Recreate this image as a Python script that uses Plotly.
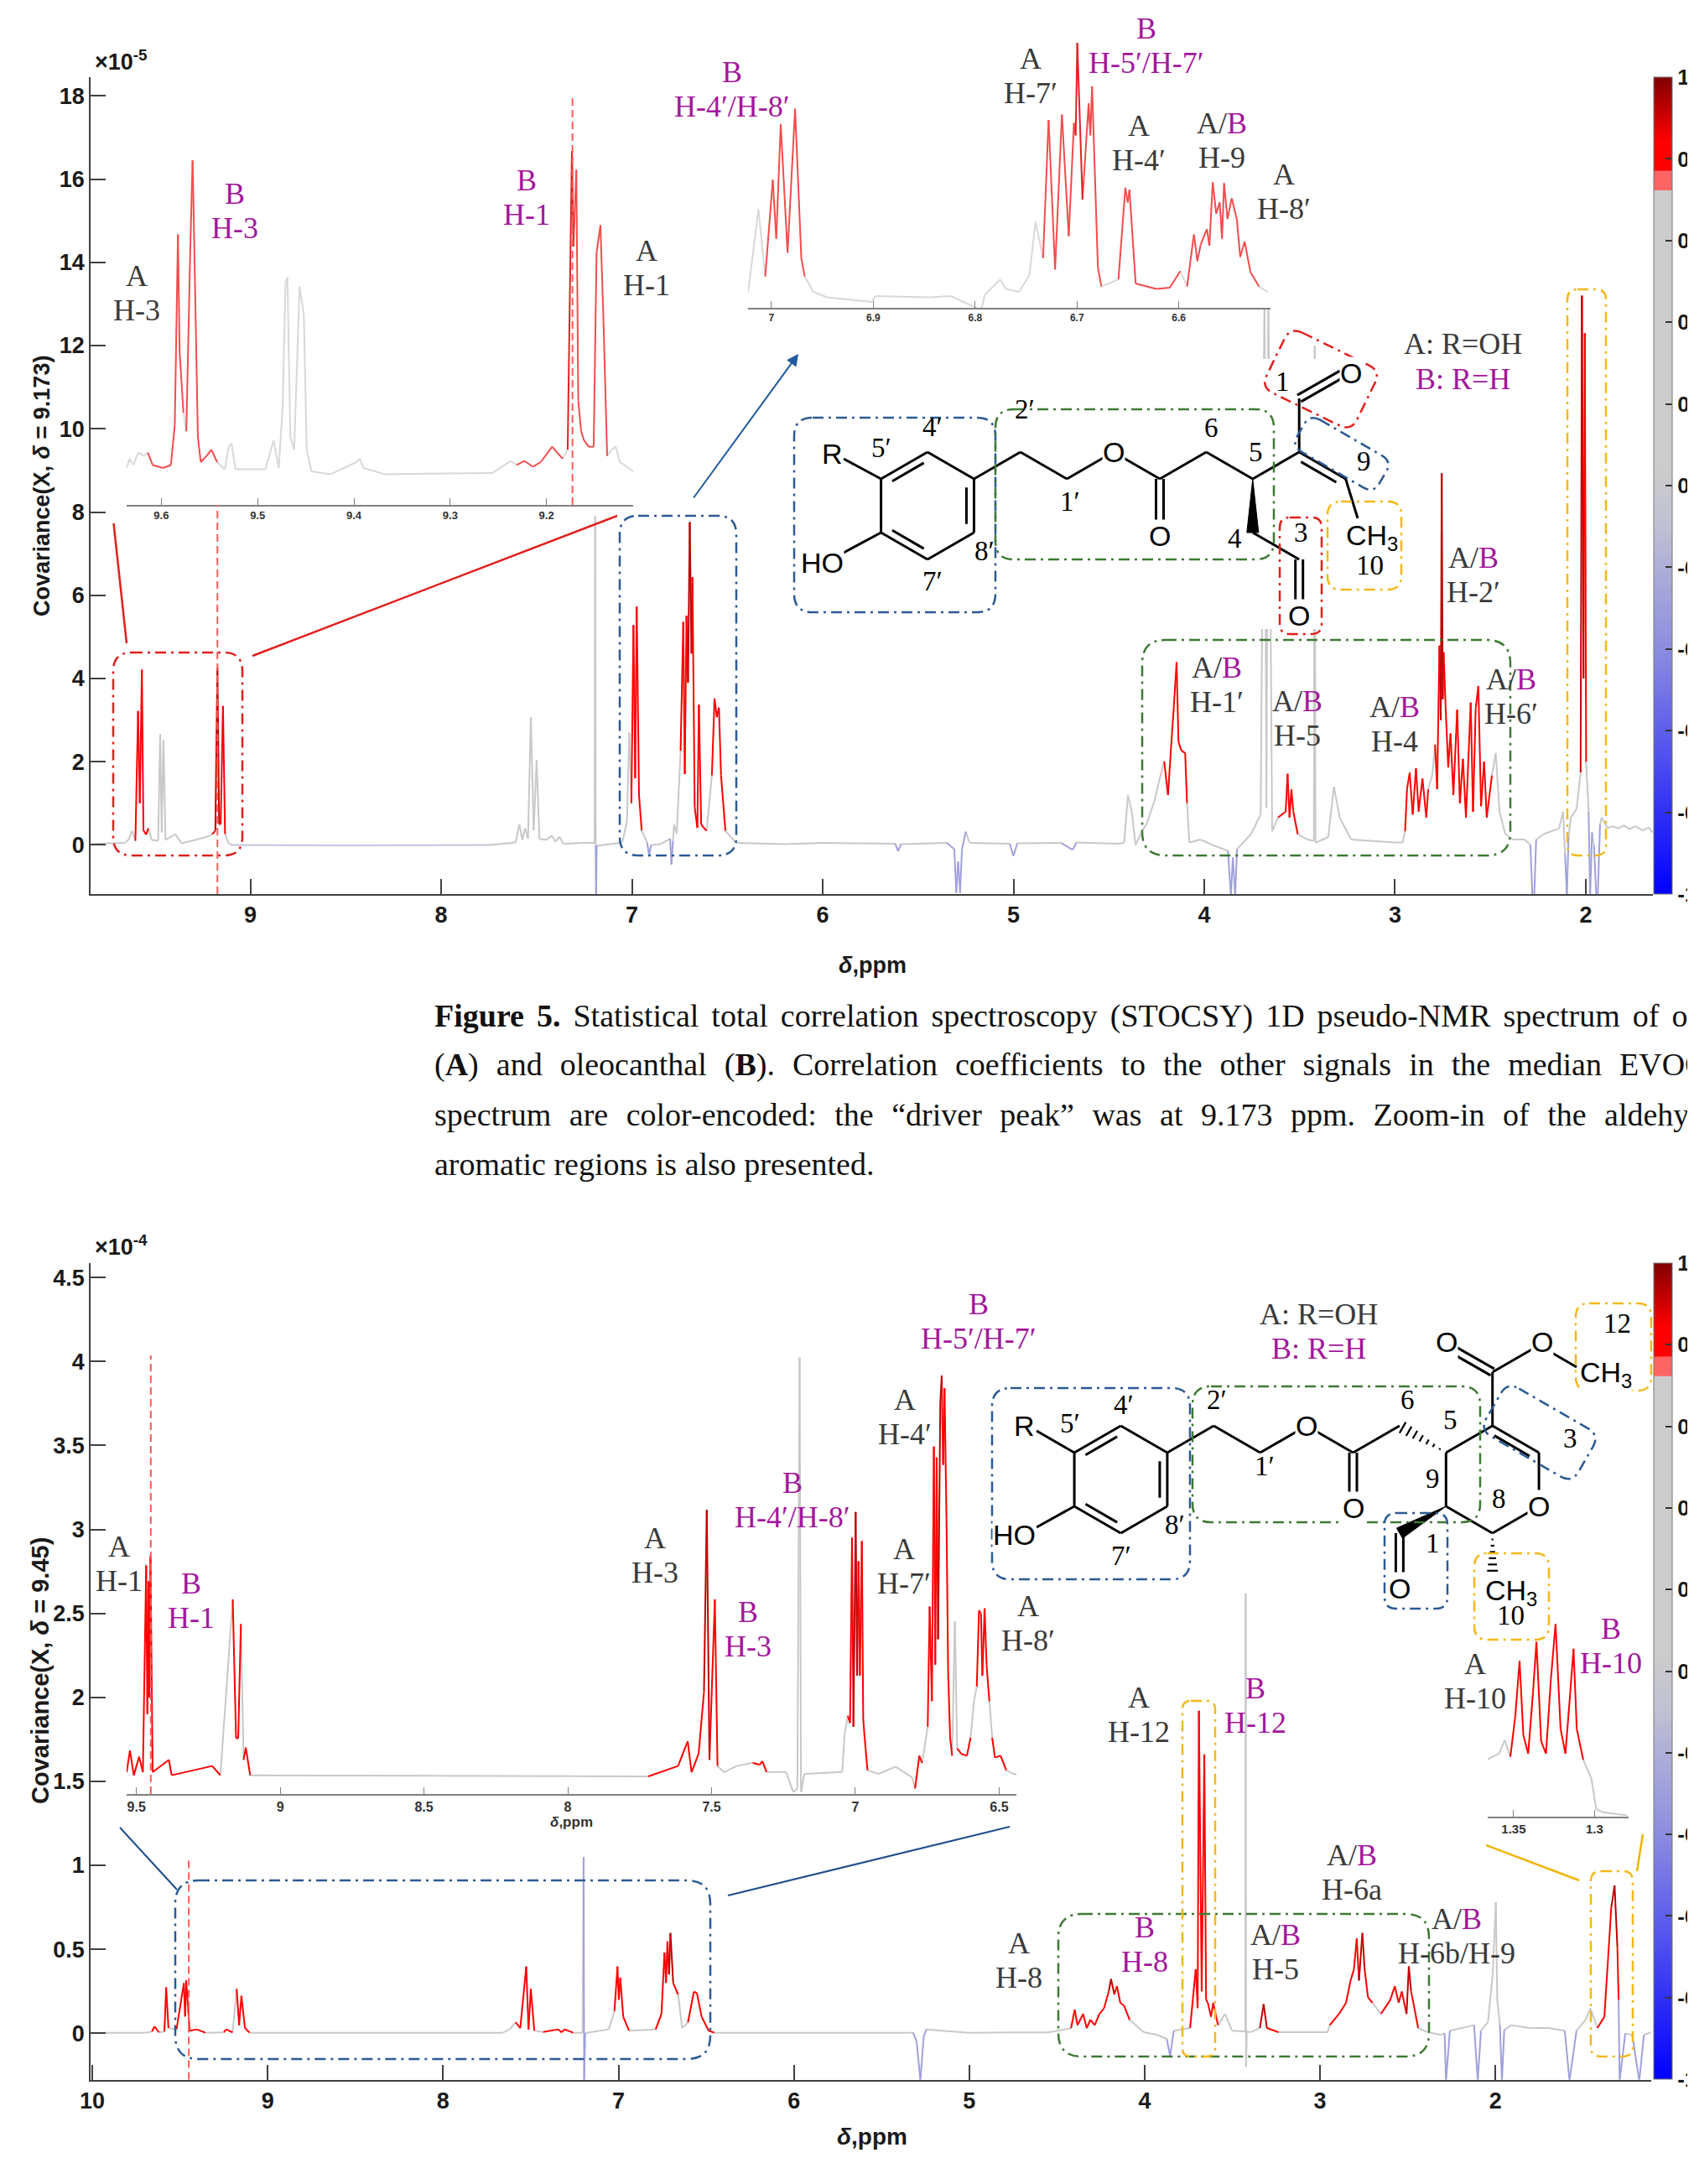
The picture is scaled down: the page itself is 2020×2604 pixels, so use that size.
import math
import plotly.graph_objects as go

W, H = 2020, 2604

# Spectra: (ppm, covariance, correlation with the driver peak)
# upper panel covariance in 1e-5, lower panel in 1e-4
top_aldehyde = [(9.835, 0.02, .3), (9.75, 0.04, .3), (9.66, 0.05, .3), (9.64, 0.12, .3), (9.62, 0.34, .3),
                (9.603, 0.10, .3), (9.589, 3.22, .8), (9.58, 1.0, .8), (9.569, 4.21, .8), (9.561, 0.35, .8),
                (9.547, 0.25, .8), (9.535, 0.40, .3), (9.518, 0.12, .3), (9.484, 0.10, .3), (9.473, 2.66, .3),
                (9.465, 0.30, .3), (9.456, 2.53, .3), (9.445, 0.12, .3), (9.394, 0.26, .3), (9.36, 0.04, .3),
                (9.23, 0.19, .3), (9.20, 0.26, .3), (9.184, 0.34, .8), (9.173, 4.26, .95), (9.164, 0.50, .8),
                (9.156, 0.50, .8), (9.144, 3.34, .8), (9.133, 0.26, .3), (9.116, 0.05, .3), (9.10, 0.0, -.2),
                (8.50, -0.01, -.2), (7.75, 0.0, -.2)]
top_aromatic = [(7.70, 0.02, .3), (7.61, 0.06, .3), (7.59, 0.50, .3), (7.575, 0.12, .3), (7.56, 0.40, .3),
                (7.545, 0.15, .3), (7.53, 3.07, .3), (7.515, 0.35, .3), (7.50, 2.04, .3), (7.485, 0.15, .3),
                (7.45, 0.12, .3), (7.42, 0.22, .3), (7.40, 0.08, .3), (7.38, 0.20, .3), (7.36, 0.03, .3),
                (7.25, 0.05, .3), (7.196, 0.05, .3), (7.193, 7.9, .3), (7.190, 0.0, .3), (7.188, -1.3, -.5),
                (7.185, -0.02, .3), (7.10, 0.03, .3), (7.06, 0.05, .3), (7.048, 0.10, .3), (7.026, 0.60, .3),
                (7.014, 2.70, .3), (7.003, 1.00, .3), (6.992, 5.29, .8), (6.983, 1.60, .8), (6.975, 5.73, .8),
                (6.963, 1.20, .8), (6.949, 0.35, .3), (6.92, 0.05, .3), (6.91, -0.25, -.5), (6.90, 0.0, .3),
                (6.85, 0.02, .3), (6.80, 0.15, .3), (6.793, -0.47, -.5), (6.785, 0.10, .3), (6.779, 0.49, .3),
                (6.765, 0.27, .3), (6.745, 2.26, .3), (6.731, 5.36, .8), (6.723, 1.70, .8), (6.714, 5.51, .8),
                (6.706, 3.90, .8), (6.697, 7.76, .95), (6.688, 4.60, .8), (6.683, 6.44, .8), (6.671, 0.90, .8),
                (6.657, 0.41, .3), (6.649, 3.37, .8), (6.637, 0.49, .8), (6.609, 0.34, .3), (6.581, 1.67, .3),
                (6.567, 3.52, .8), (6.555, 3.07, .8), (6.544, 3.30, .8), (6.533, 1.67, .8), (6.51, 0.34, .3),
                (6.482, 0.19, .3), (6.453, 0.05, .3)]
top_olefinic = [(6.2, 0.02, .3), (6.0, 0.05, .3), (5.8, 0.04, .3), (5.62, 0.03, .3), (5.605, -0.15, -.5),
                (5.59, 0.02, .3), (5.35, 0.05, .3), (5.31, -0.10, -.5), (5.30, -1.15, -.5), (5.29, -0.40, -.5),
                (5.28, -1.15, -.5), (5.27, -0.10, -.5), (5.25, 0.32, .3), (5.23, 0.05, .3), (5.02, 0.03, .3),
                (5.00, -0.26, -.5), (4.98, 0.04, .3), (4.75, 0.05, .3), (4.69, -0.12, -.5), (4.67, 0.06, .3),
                (4.45, 0.03, .3)]
top_aliphatic = [(4.42, 0.05, .3), (4.40, 1.20, .3), (4.38, 0.80, .3), (4.36, 0.0, .3), (4.33, 0.30, .3),
                 (4.30, 0.53, .3), (4.26, 1.07, .3), (4.24, 1.47, .3), (4.21, 2.01, .3), (4.19, 1.20, .8),
                 (4.17, 2.61, .8), (4.159, 3.35, .8), (4.145, 4.39, .8), (4.135, 2.48, .8), (4.12, 2.27, .8),
                 (4.10, 2.21, .8), (4.09, 1.0, .3), (4.078, 0.06, .3), (4.02, 0.13, .3), (3.957, 0.0, .3),
                 (3.876, -0.14, .3), (3.860, -1.2, -.5), (3.850, -0.3, -.5), (3.838, -1.2, -.5), (3.828, -0.1, .3),
                 (3.755, 0.26, .3), (3.704, 0.73, .3), (3.684, 13.5, .3), (3.674, 0.9, .3), (3.664, 13.3, .3),
                 (3.644, 0.33, .3), (3.613, 0.66, .3), (3.573, 0.80, .8), (3.563, 1.71, .8), (3.553, 0.66, .8),
                 (3.543, 1.34, .8), (3.533, 0.80, .8), (3.51, 0.26, .3), (3.46, 0.13, .3), (3.425, 0.10, .3),
                 (3.421, 12.0, .3), (3.417, 0.05, .3), (3.40, 0.09, .3), (3.35, 0.19, .3), (3.32, 1.40, .3),
                 (3.29, 0.66, .3), (3.23, 0.13, .3), (3.0, 0.06, .3), (2.96, 0.06, .3), (2.947, 0.33, .3),
                 (2.937, 1.34, .8), (2.923, 1.74, .8), (2.907, 0.73, .8), (2.89, 1.84, .8), (2.876, 0.80, .8),
                 (2.856, 1.60, .8), (2.836, 0.66, .8), (2.826, 1.34, .3), (2.805, 1.67, .3), (2.79, 2.41, .3),
                 (2.779, 1.34, .8), (2.767, 4.79, .8), (2.760, 3.0, .8), (2.755, 8.93, .95), (2.750, 3.5, .8),
                 (2.745, 4.63, .8), (2.735, 3.35, .8), (2.721, 1.87, .8), (2.709, 2.68, .8), (2.694, 1.2, .8),
                 (2.674, 3.25, .8), (2.66, 1.0, .8), (2.644, 2.07, .8), (2.628, 0.66, .8), (2.603, 3.42, .8),
                 (2.591, 0.8, .8), (2.577, 3.28, .8), (2.563, 3.82, .8), (2.549, 0.93, .8), (2.533, 2.0, .8),
                 (2.519, 0.66, .8), (2.492, 1.67, .3), (2.472, 2.21, .3), (2.452, 0.8, .3), (2.422, 0.26, .3),
                 (2.381, 0.13, .3), (2.32, 0.13, .3), (2.29, 0.0, .3), (2.28, -1.2, -.5), (2.27, -1.2, -.5),
                 (2.26, 0.13, .3), (2.22, 0.26, .3), (2.14, 0.40, .3), (2.119, 0.80, .3), (2.109, -0.2, .3),
                 (2.099, -1.2, -.5), (2.09, 0.2, .3), (2.078, 0.66, .3), (2.048, 0.87, .3), (2.027, 1.74, .3),
                 (2.02, 13.2, .95), (2.012, 4.0, .8), (2.005, 12.3, .8), (1.998, 2.0, .3), (1.985, 0.8, .3),
                 (1.977, -1.2, -.5), (1.967, 0.3, .3), (1.957, 0.0, .3), (1.945, -1.2, -.5), (1.937, -1.2, -.5),
                 (1.925, 0.5, .3), (1.917, 0.66, .3), (1.886, 0.40, .3), (1.86, 0.45, .3), (1.83, 0.40, .3),
                 (1.80, 0.47, .3), (1.77, 0.38, .3), (1.74, 0.45, .3), (1.70, 0.35, .3), (1.67, 0.42, .3),
                 (1.65, 0.30, .3)]

# zoom-ins of the upper panel, read against the main covariance axis
top_zoom_aldehyde = [(9.636, 9.06, .3), (9.633, 9.28, .3), (9.629, 9.13, .3), (9.624, 9.43, .3), (9.618, 9.35, .3),
                     (9.614, 9.43, .3), (9.609, 9.13, .8), (9.598, 9.06, .8), (9.590, 9.13, .8), (9.586, 10.09, .8),
                     (9.5827, 14.67, .8), (9.581, 11.86, .8), (9.577, 10.39, .3), (9.574, 9.94, .3), (9.570, 14.23, .8),
                     (9.5675, 16.45, .8), (9.565, 13.49, .8), (9.562, 9.80, .8), (9.559, 9.20, .8), (9.553, 9.35, .8),
                     (9.548, 9.50, .8), (9.542, 9.20, .3), (9.534, 9.03, .3), (9.530, 9.57, .3), (9.527, 9.65, .3),
                     (9.523, 9.03, .3), (9.492, 9.03, .3), (9.4834, 9.72, .3), (9.478, 9.06, .3), (9.474, 10.53, .3),
                     (9.471, 13.49, .3), (9.469, 13.64, .3), (9.466, 9.80, .3), (9.462, 9.50, .3), (9.4564, 13.42, .3),
                     (9.452, 12.75, .3), (9.449, 9.50, .3), (9.444, 8.98, .3), (9.424, 8.91, .3), (9.3975, 9.20, .3),
                     (9.394, 9.28, .3), (9.390, 9.06, .3), (9.368, 8.91, .3), (9.256, 8.94, .3), (9.237, 9.23, .3),
                     (9.231, 9.13, .3), (9.223, 9.23, .8), (9.214, 9.09, .8), (9.206, 9.20, .8), (9.194, 9.57, .8),
                     (9.189, 9.43, .8), (9.183, 9.28, .3), (9.178, 9.50, .3), (9.1736, 16.67, .95), (9.172, 14.38, .8),
                     (9.169, 16.22, .8), (9.167, 10.68, .8), (9.164, 9.94, .8), (9.161, 9.72, .8), (9.156, 9.57, .8),
                     (9.151, 9.57, .8), (9.148, 14.23, .8), (9.144, 14.89, .8), (9.141, 12.75, .8), (9.137, 9.35, .3),
                     (9.132, 9.50, .3), (9.128, 9.57, .3), (9.124, 9.20, .3), (9.119, 9.13, .3), (9.110, 8.98, .3)]
top_zoom_aromatic = [(7.0229, 13.29, .3), (7.0128, 15.27, .3), (7.0061, 13.66, .3), (6.9987, 15.98, .8),
                     (6.9953, 14.57, .8), (6.9909, 17.32, .8), (6.9842, 14.23, .8), (6.9768, 17.69, .8),
                     (6.9707, 14.10, .8), (6.9673, 13.66, .3), (6.9589, 13.29, .3), (6.9455, 13.16, .3),
                     (6.9017, 13.05, .3), (6.898, 13.19, .3), (6.8444, 13.16, .3), (6.824, 13.19, .3),
                     (6.794, 12.85, .3), (6.7906, 13.22, .3), (6.7754, 13.59, .3), (6.770, 13.36, .3),
                     (6.7569, 13.29, .3), (6.7468, 13.69, .3), (6.7407, 14.97, .3), (6.7333, 14.10, .3),
                     (6.7279, 17.42, .8), (6.7215, 13.83, .8), (6.7148, 17.55, .8), (6.7081, 14.63, .8),
                     (6.703, 17.35, .8), (6.7013, 17.05, .8), (6.6997, 19.27, .95), (6.6946, 15.51, .8),
                     (6.6886, 17.82, .8), (6.6869, 17.05, .8), (6.6852, 18.23, .8), (6.6795, 13.89, .8),
                     (6.6761, 13.42, .3), (6.6593, 13.59, .3), (6.6525, 15.79, .8), (6.6502, 15.44, .8),
                     (6.6485, 15.74, .8), (6.6424, 13.49, .3), (6.6222, 13.36, .8), (6.6088, 13.39, .8),
                     (6.5987, 13.79, .3), (6.5919, 13.42, .3), (6.5852, 14.67, .8), (6.5818, 14.03, .8),
                     (6.5785, 14.43, .8), (6.5724, 14.80, .8), (6.5700, 14.40, .8), (6.5667, 15.92, .8),
                     (6.5633, 15.17, .8), (6.5599, 15.44, .8), (6.5576, 14.57, .8), (6.5556, 15.90, .8),
                     (6.5522, 15.04, .8), (6.5481, 15.54, .8), (6.5431, 15.04, .8), (6.5397, 14.13, .8),
                     (6.5354, 14.50, .8), (6.5296, 13.76, .8), (6.5212, 13.42, .3), (6.5128, 13.29, .3)]

bot_low_field = [(10.01, 0.003, .3), (9.70, 0.003, .3), (9.66, 0.010, .3), (9.646, 0.04, .8), (9.62, 0.005, .3),
                 (9.589, 0.01, .3), (9.579, 0.273, .8), (9.566, 0.031, .3), (9.52, 0.023, .3), (9.478, 0.298, .8),
                 (9.471, 0.10, .8), (9.465, 0.314, .8), (9.445, 0.015, .3), (9.405, 0.023, .8), (9.355, 0.003, .3),
                 (9.25, 0.005, .3), (9.237, 0.023, .8), (9.20, 0.005, .3), (9.177, 0.264, .3), (9.163, 0.048, .8),
                 (9.150, 0.223, .3), (9.13, 0.031, .8), (9.103, 0.003, .3), (7.66, 0.003, .3), (7.62, 0.023, .3),
                 (7.587, 0.065, .3), (7.56, 0.031, .8), (7.526, 0.397, .8), (7.513, 0.023, .8), (7.50, 0.264, .8),
                 (7.48, 0.015, .3), (7.43, 0.008, .3), (7.342, 0.023, .8), (7.325, 0.005, .3), (7.308, 0.023, .8),
                 (7.258, 0.003, .3), (7.205, 0.003, .3), (7.199, 1.05, .3), (7.196, -0.28, -.5), (7.19, 0.0, .3),
                 (7.18, 0.003, .3), (7.056, 0.023, .3), (7.023, 0.131, .3), (7.006, 0.397, .8), (6.998, 0.20, .8),
                 (6.99, 0.331, .8), (6.973, 0.098, .8), (6.94, 0.015, .3), (6.788, 0.023, .3), (6.755, 0.115, .8),
                 (6.738, 0.481, .8), (6.729, 0.30, .8), (6.721, 0.547, .8), (6.712, 0.35, .8), (6.704, 0.597, .95),
                 (6.688, 0.298, .8), (6.66, 0.231, .3), (6.637, 0.031, .3), (6.604, 0.065, .3), (6.57, 0.248, .8),
                 (6.553, 0.239, .8), (6.526, 0.098, .3), (6.486, 0.015, .8), (6.453, 0.003, .3), (5.32, 0.003, .3),
                 (5.30, -0.05, -.5), (5.279, -0.281, -.5), (5.26, -0.02, -.5), (5.245, 0.023, .3), (5.0, 0.003, .3),
                 (4.75, 0.005, .3)]
bot_high_field = [(4.55, 0.005, .3), (4.42, 0.03, .3), (4.399, 0.14, .8), (4.383, 0.048, .8), (4.351, 0.115, .8),
                  (4.33, 0.03, .8), (4.31, 0.081, .8), (4.285, 0.048, .8), (4.258, 0.115, .8), (4.232, 0.148, .8),
                  (4.205, 0.248, .8), (4.192, 0.323, .95), (4.173, 0.231, .8), (4.158, 0.281, .8), (4.139, 0.181, .8),
                  (4.118, 0.165, .8), (4.086, 0.081, .3), (4.006, 0.0065, .3), (3.926, -0.01, .3), (3.874, -0.035, .3),
                  (3.855, -0.135, -.5), (3.834, 0.015, .3), (3.741, 0.031, .3), (3.709, 0.381, .8), (3.698, 0.15, .8),
                  (3.691, 1.92, .8), (3.675, 0.25, .8), (3.66, 1.66, .8), (3.65, 0.2, .8), (3.64, 0.181, .8),
                  (3.622, 0.098, .3), (3.609, 0.181, .8), (3.582, 0.048, .3), (3.542, 0.115, .3), (3.502, 0.015, .3),
                  (3.426, 0.01, .3), (3.424, 2.62, .3), (3.422, -0.2, .3), (3.418, 0.01, .3), (3.396, 0.0065, .3),
                  (3.343, 0.031, .3), (3.322, 0.173, .95), (3.303, 0.031, .8), (3.237, 0.0065, .3), (2.958, 0.0065, .3),
                  (2.945, 0.048, .3), (2.892, 0.115, .8), (2.852, 0.181, .8), (2.826, 0.314, .8), (2.807, 0.381, .8),
                  (2.791, 0.564, .8), (2.778, 0.314, .8), (2.759, 0.597, .95), (2.746, 0.381, .8), (2.727, 0.214, .8),
                  (2.701, 0.181, .3), (2.653, 0.115, .3), (2.60, 0.198, .8), (2.574, 0.281, .8), (2.552, 0.181, .8),
                  (2.534, 0.248, .8), (2.507, 0.115, .8), (2.494, 0.398, .95), (2.481, 0.248, .8), (2.462, 0.148, .8),
                  (2.441, 0.031, .3), (2.388, 0.0065, .3), (2.308, -0.01, .3), (2.29, 0.0, .3), (2.282, -0.283, -.5),
                  (2.26, 0.015, .3), (2.122, 0.048, .3), (2.101, -0.283, -.5), (2.083, 0.015, .3), (2.043, 0.065, .3),
                  (2.016, 0.348, .3), (1.998, 0.78, .3), (1.99, 0.2, .3), (1.975, 0.05, .3), (1.963, -0.283, -.5),
                  (1.95, 0.02, .3), (1.91, 0.048, .3), (1.804, 0.031, .3), (1.698, 0.031, .3), (1.605, 0.015, .3),
                  (1.578, -0.283, -.5), (1.538, 0.015, .3), (1.486, 0.081, .3), (1.459, 0.148, .3), (1.419, 0.031, .3),
                  (1.379, 0.098, .8), (1.358, 0.447, .8), (1.340, 0.747, .8), (1.321, 0.88, .95), (1.305, 0.514, .8),
                  (1.298, 0.2, .3), (1.292, -0.283, -.5), (1.26, -0.002, .3), (1.22, -0.01, .3), (1.18, -0.283, -.5),
                  (1.154, -0.01, .3), (1.112, 0.0065, .3)]

# zoom-ins of the lower panel, read against the main covariance axis
bot_zoom_aromatic = [(9.534, 1.554, .3), (9.5225, 1.683, .8), (9.509, 1.536, .3), (9.4906, 1.646, .8),
                     (9.4775, 1.554, .3), (9.466, 2.785, .8), (9.462, 1.90, .8), (9.458, 2.693, .8), (9.455, 2.0, .8),
                     (9.451, 2.84, .8), (9.4436, 1.554, .3), (9.387, 1.628, .8), (9.3775, 1.536, .3),
                     (9.2363, 1.591, .8), (9.208, 1.536, .3), (9.165, 2.583, .3), (9.1535, 1.756, .8),
                     (9.146, 1.756, .8), (9.1366, 2.436, .3), (9.1272, 1.628, .3), (9.1196, 1.701, .8),
                     (9.1044, 1.536, .3), (7.72, 1.529, .3), (7.6166, 1.591, .8), (7.583, 1.738, .8),
                     (7.5696, 1.554, .3), (7.545, 1.665, .8), (7.5263, 2.032, .3), (7.5167, 3.116, .95),
                     (7.5073, 1.628, .8), (7.4886, 2.583, .8), (7.4793, 1.591, .3), (7.4565, 1.554, .3),
                     (7.4132, 1.591, .3), (7.3567, 1.61, .3), (7.3332, 1.598, .8), (7.3234, 1.620, .8),
                     (7.3088, 1.555, .3), (7.2406, 1.555, .3), (7.2162, 1.436, .3), (7.2016, 1.457, .3),
                     (7.1938, 4.023, .3), (7.1889, 1.436, .3), (7.1773, 1.544, .3), (7.0457, 1.555, .3),
                     (7.0379, 1.771, .3), (7.0262, 1.890, .3), (7.0184, 1.847, .8), (7.0116, 2.951, .8),
                     (7.0067, 1.825, .8), (6.9989, 3.103, .95), (6.994, 2.129, .8), (6.9891, 2.81, .8),
                     (6.9843, 2.129, .8), (6.9774, 2.93, .8), (6.9726, 1.869, .8), (6.9677, 1.76, .8),
                     (6.9579, 1.566, .3), (6.919, 1.544, .3), (6.8605, 1.587, .3), (6.802, 1.522, .3),
                     (6.7923, 1.457, .3), (6.7776, 1.652, .8), (6.7679, 1.609, .3), (6.7484, 1.825, .3),
                     (6.7416, 2.54, .8), (6.7338, 1.977, .8), (6.727, 3.492, .8), (6.7221, 2.194, .8),
                     (6.7172, 3.428, .8), (6.7124, 2.345, .8), (6.7046, 3.752, .95), (6.6997, 3.915, .8),
                     (6.6948, 3.384, .8), (6.6899, 3.839, .8), (6.6831, 3.06, .8), (6.6773, 2.15, .3),
                     (6.6704, 1.76, .8), (6.6636, 1.652, .3), (6.6539, 2.453, .3), (6.6461, 1.696, .3),
                     (6.6314, 1.663, .8), (6.6119, 1.652, .8), (6.5993, 1.76, .3), (6.5876, 1.977, .3),
                     (6.5778, 2.064, .3), (6.57, 2.518, .8), (6.5632, 2.497, .8), (6.5583, 2.129, .8),
                     (6.5505, 2.529, .8), (6.5437, 2.194, .8), (6.534, 1.977, .3), (6.5242, 1.76, .3),
                     (6.5145, 1.641, .8), (6.495, 1.652, .8), (6.4755, 1.566, .3), (6.4512, 1.544, .3),
                     (6.44, 1.54, .3)]
bot_zoom_methyl = [(1.366, 1.63, .3), (1.359, 1.665, .3), (1.3555, 1.745, .3), (1.352, 1.646, .3),
                   (1.349, 1.885, .8), (1.3463, 2.216, .8), (1.344, 1.775, .8), (1.341, 1.665, .3),
                   (1.338, 2.032, .8), (1.3359, 2.33, .8), (1.333, 1.738, .8), (1.330, 1.665, .3),
                   (1.327, 2.105, .8), (1.3241, 2.436, .8), (1.321, 1.812, .8), (1.318, 1.665, .3),
                   (1.315, 2.032, .8), (1.313, 2.289, .8), (1.311, 1.812, .8), (1.307, 1.628, .3),
                   (1.302, 1.518, .3), (1.299, 1.334, .3), (1.295, 1.316, .3), (1.28, 1.297, .3)]

top_xticks = [9, 8, 7, 6, 5, 4, 3, 2]
top_yticks = [0, 2, 4, 6, 8, 10, 12, 14, 16, 18]
bot_xticks = [10, 9, 8, 7, 6, 5, 4, 3, 2]
bot_yticks = [0, 0.5, 1, 1.5, 2, 2.5, 3, 3.5, 4, 4.5]
corr_ticks = [1, 0.8, 0.6, 0.4, 0.2, 0, -0.2, -0.4, -0.6, -0.8, -1]
top_zoom1_ticks = [9.6, 9.5, 9.4, 9.3, 9.2]
top_zoom2_ticks = [7, 6.9, 6.8, 6.7, 6.6]
bot_zoom1_ticks = [9.5, 9, 8.5, 8, 7.5, 7, 6.5]
bot_zoom2_ticks = [1.35, 1.3]

MAG = '#a3179c'
DARK = '#3a3a3a'
SANS = 'Liberation Sans'
SERIF = 'Liberation Serif'

MAIN_COLORS = ['#c8c8c8', '#c4c4de', '#a0a0dc', '#ff0000', '#c00000']
LIGHT_COLORS = ['#d8d8d8', '#c8c8e0', '#b0b0e0', '#f24c4c', '#e02222']

CORR_SCALE = [[0, '#0000ff'], [0.15, '#4848f0'], [0.3, '#8c8ce0'], [0.45, '#c0c0d4'], [0.52, '#cccccc'],
              [0.861, '#cccccc'], [0.862, '#ff6464'], [0.885, '#ff6464'], [0.886, '#ff0000'],
              [0.922, '#ff0000'], [1, '#800000']]


def level(c):
    if c >= 0.9:
        return 4
    if c >= 0.74:
        return 3
    if c >= 0:
        return 0
    if c >= -0.3:
        return 1
    return 2


def fmt(v):
    return ('%g' % v)


fig = go.Figure()


def add_spectrum(pts, xa, ya, colors, width=2.0):
    buckets = {}
    for (x0, y0, c0), (x1, y1, c1) in zip(pts[:-1], pts[1:]):
        c = c0 if abs(c0) >= abs(c1) else c1
        b = buckets.setdefault(level(c), ([], []))
        b[0].extend([x0, x1, None])
        b[1].extend([y0, y1, None])
    for lv in [0, 1, 2, 3, 4]:
        if lv in buckets:
            fig.add_trace(go.Scatter(x=buckets[lv][0], y=buckets[lv][1], mode='lines', xaxis=xa, yaxis=ya,
                                     line=dict(color=colors[lv], width=width), hoverinfo='skip'))


add_spectrum(top_aldehyde + top_aromatic + top_olefinic + top_aliphatic, 'x', 'y', MAIN_COLORS)
add_spectrum(bot_low_field + bot_high_field, 'x2', 'y2', MAIN_COLORS)
add_spectrum(top_zoom_aldehyde, 'x3', 'y3', LIGHT_COLORS)
add_spectrum(top_zoom_aromatic, 'x4', 'y4', LIGHT_COLORS)
add_spectrum(bot_zoom_aromatic, 'x5', 'y5', MAIN_COLORS)
add_spectrum(bot_zoom_methyl, 'x6', 'y6', MAIN_COLORS)


def colorbar_trace(xa, ya, top, bottom):
    fig.add_trace(go.Scatter(
        x=[100], y=[100], mode='markers', xaxis=xa, yaxis=ya, hoverinfo='skip',
        marker=dict(size=1, color=[0], colorscale=CORR_SCALE, cmin=-1, cmax=1, showscale=True,
                    colorbar=dict(x=1964 / W, xanchor='left', xpad=0, ypad=0,
                                  y=1 - top / H, yanchor='top', len=(bottom - top) / H, lenmode='fraction',
                                  thickness=22, thicknessmode='pixels', outlinewidth=1, outlinecolor='#777',
                                  tickvals=corr_ticks, ticktext=[fmt(v) for v in corr_ticks],
                                  ticks='inside', ticklen=8, tickcolor='#333', tickwidth=2,
                                  tickfont=dict(family=SANS, size=26, color='#1a1a1a', weight='bold')))))


colorbar_trace('x', 'y', 84, 1058)
colorbar_trace('x2', 'y2', 1498, 2471.5)


def dom_x(a, b):
    return [a / W, b / W]


def dom_y(top, bottom):
    return [1 - bottom / H, 1 - top / H]


main_axis = dict(showline=True, linecolor='#404040', linewidth=1.5, ticks='inside', ticklen=18, tickwidth=1.5,
                 tickcolor='#404040', showgrid=False, zeroline=False,
                 tickfont=dict(family=SANS, size=27, color='#1a1a1a', weight='bold'))
zoom_axis = dict(showline=True, linecolor='#808080', linewidth=1.5, ticks='inside', ticklen=8, tickwidth=1,
                 tickcolor='#808080', showgrid=False, zeroline=False)
hidden = dict(visible=False, showgrid=False, zeroline=False)

# covariance of the pixel rows of the zoom-in frames (same scale as the main axes)
top_cov = lambda y: (999.6 - y) / 49.63
bot_cov = lambda y: (2416.3 - y) / 200.3

fig.update_layout(
    width=W, height=H, margin=dict(l=0, r=0, t=0, b=0, autoexpand=False),
    paper_bgcolor='white', plot_bgcolor='white', showlegend=False,
    xaxis=dict(main_axis, domain=dom_x(100, 1963), range=[9.838, 1.648], anchor='y',
               tickvals=top_xticks, ticktext=[fmt(v) for v in top_xticks]),
    yaxis=dict(main_axis, domain=dom_y(84, 1058), range=[-1.18, 18.45], anchor='x',
               tickvals=top_yticks, ticktext=[fmt(v) for v in top_yticks]),
    xaxis2=dict(main_axis, domain=dom_x(100, 1961), range=[10.01, 1.112], anchor='y2',
                tickvals=bot_xticks, ticktext=[fmt(v) for v in bot_xticks]),
    yaxis2=dict(main_axis, domain=dom_y(1498, 2471.5), range=[-0.276, 4.586], anchor='x2',
                tickvals=bot_yticks, ticktext=[fmt(v) for v in bot_yticks]),
    xaxis3=dict(zoom_axis, domain=dom_x(143, 747), range=[9.636, 9.110], anchor='y3',
                tickvals=top_zoom1_ticks, ticktext=[fmt(v) for v in top_zoom1_ticks],
                tickfont=dict(family=SANS, size=13, color='#333', weight='bold')),
    yaxis3=dict(hidden, domain=dom_y(92, 594), range=[top_cov(594), top_cov(92)], anchor='x3'),
    xaxis4=dict(zoom_axis, domain=dom_x(884, 1507), range=[7.023, 6.510], anchor='y4',
                tickvals=top_zoom2_ticks, ticktext=[fmt(v) for v in top_zoom2_ticks],
                tickfont=dict(family=SANS, size=12, color='#333', weight='bold')),
    yaxis4=dict(hidden, domain=dom_y(28, 359), range=[top_cov(359), top_cov(28)], anchor='x4'),
    xaxis5=dict(zoom_axis, domain=dom_x(143, 1204), range=[9.534, 6.44], anchor='y5',
                tickvals=bot_zoom1_ticks, ticktext=[fmt(v) for v in bot_zoom1_ticks],
                tickfont=dict(family=SANS, size=16, color='#333', weight='bold'),
                title=dict(text='<i>δ</i>,ppm', standoff=2,
                           font=dict(family=SANS, size=17, color='#333', weight='bold'))),
    yaxis5=dict(hidden, domain=dom_y(1595, 2131), range=[bot_cov(2131), bot_cov(1595)], anchor='x5'),
    xaxis6=dict(zoom_axis, domain=dom_x(1766, 1934), range=[1.366, 1.279], anchor='y6',
                tickvals=bot_zoom2_ticks, ticktext=[fmt(v) for v in bot_zoom2_ticks],
                tickfont=dict(family=SANS, size=15, color='#333', weight='bold')),
    yaxis6=dict(hidden, domain=dom_y(1900, 2158), range=[bot_cov(2158), bot_cov(1900)], anchor='x6'),
)

shapes = []
annotations = []


def P(x, y):
    return x / W, 1 - y / H


def line(p, q, color='black', width=3, dash=None):
    x0, y0 = P(*p)
    x1, y1 = P(*q)
    shapes.append(dict(type='line', xref='paper', yref='paper', x0=x0, y0=y0, x1=x1, y1=y1,
                       line=dict(color=color, width=width, dash=dash), layer='above'))


def rbox(cx, cy, w, h, color, ang=0, r=20):
    a = math.radians(ang)
    ca, sa = math.cos(a), math.sin(a)

    def tp(u, v):
        x, y = P(cx + u * ca - v * sa, cy + u * sa + v * ca)
        return '%.5f,%.5f' % (x, y)
    hw, hh = w / 2, h / 2
    d = ('M %s L %s Q %s %s L %s Q %s %s L %s Q %s %s L %s Q %s %s Z' % (
        tp(-hw + r, -hh), tp(hw - r, -hh), tp(hw, -hh), tp(hw, -hh + r), tp(hw, hh - r), tp(hw, hh),
        tp(hw - r, hh), tp(-hw + r, hh), tp(-hw, hh), tp(-hw, hh - r), tp(-hw, -hh + r), tp(-hw, -hh),
        tp(-hw + r, -hh)))
    shapes.append(dict(type='path', path=d, xref='paper', yref='paper', layer='above',
                       line=dict(color=color, width=2.5, dash='13px,6px,3px,6px')))


def box(x0, y0, x1, y1, color, r=22):
    rbox((x0 + x1) / 2, (y0 + y1) / 2, x1 - x0, y1 - y0, color, 0, r)


def mask(x0, y0, x1, y1):
    a = P(x0, y1)
    b = P(x1, y0)
    shapes.append(dict(type='rect', xref='paper', yref='paper', x0=a[0], y0=a[1], x1=b[0], y1=b[1],
                       fillcolor='white', line=dict(width=0), layer='above'))


def text(x, y, s, size=36, color=DARK, family=SERIF, bg=None, anchor='center', weight='normal', angle=0):
    px, py = P(x, y)
    a = dict(x=px, y=py, xref='paper', yref='paper', text=s, showarrow=False, textangle=angle,
             font=dict(family=family, size=size, color=color, weight=weight),
             xanchor=anchor, yanchor='middle', borderpad=0)
    if bg:
        a['bgcolor'] = bg
    annotations.append(a)


def peak_label(x, y, who, name):
    y -= 8
    if who == 'A':
        text(x, y, 'A')
        text(x, y + 41, name)
    elif who == 'B':
        text(x, y, 'B', color=MAG)
        text(x, y + 41, name, color=MAG)
    else:
        text(x, y, 'A/<span style="color:%s">B</span>' % MAG)
        text(x, y + 41, name)


# ---- chemical structures ----
def hexagon(cx, cy, r):
    return [(cx, cy - r), (cx + r * 0.866, cy - r / 2), (cx + r * 0.866, cy + r / 2),
            (cx, cy + r), (cx - r * 0.866, cy + r / 2), (cx - r * 0.866, cy - r / 2)]


def inner(p, q, toward, off=9, cut=0.16):
    dx, dy = q[0] - p[0], q[1] - p[1]
    L = math.hypot(dx, dy)
    nx, ny = -dy / L, dx / L
    mx, my = (p[0] + q[0]) / 2, (p[1] + q[1]) / 2
    if (toward[0] - mx) * nx + (toward[1] - my) * ny < 0:
        nx, ny = -nx, -ny
    a = (p[0] + cut * dx + off * nx, p[1] + cut * dy + off * ny)
    b = (q[0] - cut * dx + off * nx, q[1] - cut * dy + off * ny)
    line(a, b)


def pair(p, q, off=4.5):
    dx, dy = q[0] - p[0], q[1] - p[1]
    L = math.hypot(dx, dy)
    nx, ny = -dy / L * off, dx / L * off
    line((p[0] + nx, p[1] + ny), (q[0] + nx, q[1] + ny))
    line((p[0] - nx, p[1] - ny), (q[0] - nx, q[1] - ny))


def wedge(p, q, half=7):
    dx, dy = q[0] - p[0], q[1] - p[1]
    L = math.hypot(dx, dy)
    nx, ny = -dy / L * half, dx / L * half
    pts = [P(*p), P(q[0] + nx, q[1] + ny), P(q[0] - nx, q[1] - ny)]
    d = 'M %.5f,%.5f L %.5f,%.5f L %.5f,%.5f Z' % (pts[0] + pts[1] + pts[2])
    shapes.append(dict(type='path', path=d, xref='paper', yref='paper', fillcolor='black',
                       line=dict(color='black', width=1), layer='above'))


def hashed(p, q, n=7, half=8):
    dx, dy = q[0] - p[0], q[1] - p[1]
    L = math.hypot(dx, dy)
    ux, uy = -dy / L, dx / L
    for i in range(1, n + 1):
        t = i / (n + 0.5)
        cx, cy = p[0] + t * dx, p[1] + t * dy
        h = half * t
        line((cx - ux * h, cy - uy * h), (cx + ux * h, cy + uy * h), width=2.2)


def ring(v):
    for i in range(6):
        line(v[i], v[(i + 1) % 6])
    c = (sum(p[0] for p in v) / 6, sum(p[1] for p in v) / 6)
    for i, j in [(5, 0), (1, 2), (3, 4)]:
        inner(v[i], v[j], c)


def chain(pts):
    for a, b in zip(pts[:-1], pts[1:]):
        line(a, b)


def atom(x, y, s, size=34):
    text(x, y, s, size=size, color='black', family=SANS, bg='white')


def num(x, y, s, size=33):
    text(x, y - 4, s, size=size, color='black', family=SERIF)


# upper structure (oleacein / oleocanthal dialdehydic form)
mask(939, 420, 1665, 742)
v = hexagon(1098, 595, 64)
ring(v)
line(v[5], (998, 539))
line(v[4], (996, 652))
chain([v[1], (1208.8, 531), (1264.2, 563), (1319.6, 531), (1375, 563), (1430.4, 531), (1485.8, 563),
       (1541.2, 531)])
pair((1375, 563), (1375, 622))
line((1541.2, 531), (1541.2, 467))
pair((1541.2, 467), (1592, 438))
line((1541.2, 531), (1596.6, 563))
inner((1541.2, 531), (1596.6, 563), (1560, 620), off=9, cut=0.12)
line((1596.6, 563), (1611, 610))
wedge((1485.8, 563), (1485.8, 627))
line((1485.8, 627), (1541.2, 659))
pair((1541.2, 659), (1541.2, 716))
atom(984, 533, 'R')
atom(972, 663, 'HO')
atom(1319.6, 531, 'O')
atom(1375, 631, 'O')
atom(1603, 437, 'O')
atom(1541.2, 726, 'O')
atom(1628, 632, 'CH<sub>3</sub>')
for x, y, s in [(1043, 530, '5′'), (1104, 505, '4′'), (1214, 484, '2′'), (1268, 594, '1′'), (1436, 506, '6'),
                (1489, 535, '5'), (1521, 451, '1'), (1618, 546, '9'), (1625, 670, '10'), (1543, 631, '3'),
                (1464, 638, '4'), (1166, 653, '8′'), (1104, 689, '7′')]:
    num(x, y, s)
text(1736, 402, 'A: R=OH', color=DARK)
text(1736, 444, 'B: R=H', color=MAG)
box(939, 490, 1179, 722, '#2c5a94')
box(1179, 480, 1511, 659, '#3d7a33')
rbox(1567, 444, 120, 80, '#e0201e', ang=26, r=16)
rbox(1592, 533, 113, 44, '#2c5a94', ang=30, r=14)
box(1518, 609, 1568, 748, '#e0201e', r=12)
box(1575, 590, 1663, 695, '#f4b81a', r=16)

# lower structure (oleacein / oleocanthal, closed form)
v = hexagon(1328.5, 1756, 64)
ring(v)
line(v[5], (1228, 1698))
line(v[4], (1228, 1813))
chain([v[1], (1439.3, 1692), (1494.7, 1724), (1550.1, 1692), (1605.5, 1724), (1660.9, 1692)])
pair((1605.5, 1724), (1605.5, 1783))
hashed((1716.3, 1724), (1660.9, 1692))
chain([(1716.3, 1724), (1771.7, 1692), (1771.7, 1628)])
pair((1771.7, 1628), (1721, 1599))
chain([(1771.7, 1628), (1827.1, 1596), (1872, 1622)])
line((1771.7, 1692), (1827.1, 1724))
inner((1771.7, 1692), (1827.1, 1724), (1771.7, 1756), off=9, cut=0.12)
chain([(1827.1, 1724), (1827.1, 1788), (1771.7, 1820), (1716.3, 1788), (1716.3, 1724)])
wedge((1716.3, 1788), (1660.9, 1820))
pair((1660.9, 1820), (1660.9, 1878))
hashed((1771.7, 1820), (1771.7, 1876))
atom(1213, 1692, 'R')
atom(1201, 1822, 'HO')
atom(1550.1, 1692, 'O')
atom(1605.5, 1790, 'O')
atom(1717, 1592, 'O')
atom(1831, 1592, 'O')
atom(1827.1, 1788, 'O')
atom(1660.9, 1886, 'O')
atom(1907, 1630, 'CH<sub>3</sub>')
atom(1794, 1890, 'CH<sub>3</sub>')
for x, y, s in [(1268, 1693, '5′'), (1332, 1671, '4′'), (1443, 1665, '2′'), (1500, 1744, '1′'),
                (1393, 1814, '8′'), (1329, 1851, '7′'), (1670, 1665, '6'), (1721, 1689, '5'), (1700, 1759, '9'),
                (1779, 1783, '8'), (1700, 1836, '1'), (1864, 1711, '3'), (1920, 1574, '12'), (1793, 1922, '10')]:
    num(x, y, s)
text(1564, 1559, 'A: R=OH', color=DARK)
text(1564, 1600, 'B: R=H', color=MAG)
box(1175, 1647, 1411, 1875, '#2c5a94')
box(1414, 1645, 1757, 1807, '#3d7a33')
box(1871, 1546, 1961, 1650, '#f4b81a', r=16)
rbox(1828, 1700, 127, 66, '#2c5a94', ang=30, r=16)
box(1643, 1796, 1718, 1910, '#2c5a94', r=14)
box(1750, 1844, 1839, 1947, '#f4b81a', r=16)

# ---- region boxes and zoom connectors ----
box(127, 770, 281, 1012, '#e0201e')
box(731, 607, 870, 1012, '#2c5a94')
box(1354, 755, 1793, 1012, '#3d7a33', r=28)
box(1861, 337, 1907, 1012, '#f4b81a', r=12)
line((127.5, 616), (143, 759), color='#e0201e', width=2.5)
line((293, 774), (728, 607), color='#e0201e', width=2.5)

box(201, 2234, 839, 2447, '#2c5a94', r=28)
box(1254, 2274, 1696, 2444, '#3d7a33', r=28)
box(1402, 2020, 1441, 2444, '#f4b81a', r=10)
box(1889, 2223, 1939, 2444, '#f4b81a', r=12)
line((135, 2171), (203, 2245), color='#1f4e8c', width=2)
line((860, 2252), (1196, 2170), color='#1f4e8c', width=2)
line((1764, 2192), (1875, 2234), color='#f0b400', width=2.5)
line((1944, 2223), (1951, 2179), color='#f0b400', width=2.5)

ax0, ay0 = P(944, 414)
annotations.append(dict(x=ax0, y=ay0, xref='paper', yref='paper', text='', showarrow=True,
                        ax=818 - 944, ay=587 - 414, axref='pixel', ayref='pixel',
                        arrowhead=2, arrowsize=1.4, arrowwidth=2, arrowcolor='#1f5aa0'))

# driver-peak markers
for xref, ppm, y0, y1 in [('x', 9.173, 1058, 594), ('x3', 9.173, 594, 106),
                          ('x2', 9.45, 2471.5, 2208), ('x5', 9.45, 2131, 1608)]:
    shapes.append(dict(type='line', xref=xref, yref='paper', x0=ppm, x1=ppm, y0=1 - y0 / H, y1=1 - y1 / H,
                       line=dict(color='#ff5a5a', width=2, dash='9px,5px'), layer='above'))

# ---- peak assignments ----
for x, y, who, name in [(155, 329, 'A', 'H-3'), (272, 231, 'B', 'H-3'), (620, 215, 'B', 'H-1'),
                        (763, 299, 'A', 'H-1'), (865, 86, 'B', 'H-4′/H-8′'), (1221, 70, 'A', 'H-7′'),
                        (1359, 34, 'B', 'H-5′/H-7′'), (1350, 150, 'A', 'H-4′'), (1449, 147, 'AB', 'H-9'),
                        (1523, 208, 'A', 'H-8′'), (1443, 796, 'AB', 'H-1′'), (1539, 836, 'AB', 'H-5'),
                        (1655, 843, 'AB', 'H-4'), (1749, 665, 'AB', 'H-2′'), (1794, 810, 'AB', 'H-6′')]:
    peak_label(x, y, who, name)
for x, y, who, name in [(134, 1844, 'A', 'H-1'), (220, 1888, 'B', 'H-1'), (773, 1834, 'A', 'H-3'),
                        (884, 1922, 'B', 'H-3'), (937, 1768, 'B', 'H-4′/H-8′'), (1159, 1555, 'B', 'H-5′/H-7′'),
                        (1071, 1669, 'A', 'H-4′'), (1070, 1847, 'A', 'H-7′'), (1218, 1915, 'A', 'H-8′'),
                        (1350, 2024, 'A', 'H-12'), (1489, 2013, 'B', 'H-12'), (1751, 1984, 'A', 'H-10'),
                        (1913, 1942, 'B', 'H-10'), (1604, 2212, 'AB', 'H-6a'), (1207, 2317, 'A', 'H-8'),
                        (1357, 2298, 'B', 'H-8'), (1513, 2307, 'AB', 'H-5'), (1729, 2288, 'AB', 'H-6b/H-9')]:
    peak_label(x, y, who, name)

# ---- axis titles, exponents, caption ----
text(42, 572, 'Covariance(X, <i>δ</i> = 9.173)', size=27, color='#1a1a1a', family=SANS, weight='bold', angle=-90)
text(40, 1984, 'Covariance(X, <i>δ</i> = 9.45)', size=29, color='#1a1a1a', family=SANS, weight='bold', angle=-90)
text(1032, 1143, '<i>δ</i>,ppm', size=27, color='#1a1a1a', family=SANS, weight='bold')
text(1032, 2539, '<i>δ</i>,ppm', size=28, color='#1a1a1a', family=SANS, weight='bold')
text(104, 64, '×10<sup>-5</sup>', size=27, color='#1a1a1a', family=SANS, anchor='left', weight='bold')
text(104, 1477, '×10<sup>-4</sup>', size=27, color='#1a1a1a', family=SANS, anchor='left', weight='bold')

caption = [('<b>Figure 5.</b> Statistical total correlation spectroscopy (STOCSY) 1D pseudo-NMR spectrum of oleacein', 5.5),
           ('(<b>A</b>) and oleocanthal (<b>B</b>). Correlation coefficients to the other signals in the median EVOO', 11.5),
           ('spectrum are color-encoded: the “driver peak” was at 9.173 ppm. Zoom-in of the aldehyde and', 12),
           ('aromatic regions is also presented.', 0)]
for i, (s, ws) in enumerate(caption):
    if ws:
        s = '<span style="word-spacing:%gpx">%s</span>' % (ws, s)
    text(509, 1203 + 59 * i, s, size=38, color='#111', family=SERIF, anchor='left')

fig.update_layout(shapes=shapes, annotations=annotations)
fig.write_html('out.html')
